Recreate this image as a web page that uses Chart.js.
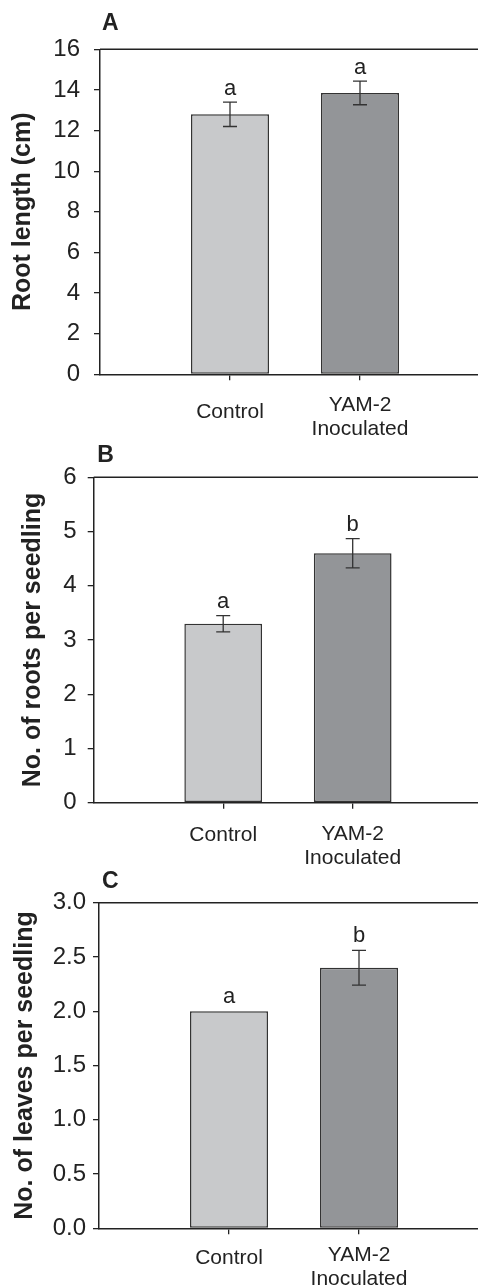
<!DOCTYPE html>
<html>
<head>
<meta charset="utf-8">
<script src="https://cdn.jsdelivr.net/npm/chart.js@4.4.1/dist/chart.umd.min.js"></script>
<style>
html,body{margin:0;padding:0;background:#fff;overflow:hidden;width:478px;height:1287px;position:relative;}
canvas{position:absolute;left:0;}
</style>
</head>
<body>
<canvas id="cA" width="500" height="440" style="top:0px"></canvas>
<canvas id="cB" width="500" height="430" style="top:440px"></canvas>
<canvas id="cC" width="500" height="417" style="top:870px"></canvas>
<script>
// ---- data ----
const categories = ['Control', 'YAM-2 Inoculated'];
const categoryLines = [['Control'], ['YAM-2', 'Inoculated']];
const barColors = ['#c8c9cb', '#939598'];

const rootLength = [12.8, 13.85];
const rootLengthErr = [0.6, 0.58];
const rootLengthLetters = ['a', 'a'];
const rootLengthTicks = [0, 2, 4, 6, 8, 10, 12, 14, 16];
const rootLengthTickLabels = ['0', '2', '4', '6', '8', '10', '12', '14', '16'];

const rootsPerSeedling = [3.3, 4.6];
const rootsPerSeedlingErr = [0.15, 0.27];
const rootsPerSeedlingLetters = ['a', 'b'];
const rootsTicks = [0, 1, 2, 3, 4, 5, 6];
const rootsTickLabels = ['0', '1', '2', '3', '4', '5', '6'];

const leavesPerSeedling = [2.0, 2.4];
const leavesPerSeedlingErr = [0, 0.16];
const leavesPerSeedlingLetters = ['a', 'b'];
const leavesTicks = [0, 0.5, 1, 1.5, 2, 2.5, 3];
const leavesTickLabels = ['0.0', '0.5', '1.0', '1.5', '2.0', '2.5', '3.0'];

// ---- rendering ----
const FAMILY = "'Liberation Sans', Arial, Helvetica, sans-serif";
const INK = '#222';

function makePanel(id, cfg) {
  const canvas = document.getElementById(id);
  const W = canvas.width, H = canvas.height;
  const a = cfg.area;

  const overlay = {
    id: 'overlay_' + id,
    afterDatasetsDraw(chart) {
      const ctx = chart.ctx;
      const y = chart.scales.y;
      const meta = chart.getDatasetMeta(0);
      ctx.save();
      meta.data.forEach((bar, i) => {
        const v = cfg.values[i], e = cfg.errs[i];
        const yt = y.getPixelForValue(v + e);
        if (e > 0) {
          const yb = y.getPixelForValue(v - e);
          ctx.strokeStyle = '#333';
          ctx.lineWidth = 1.3;
          ctx.beginPath();
          ctx.moveTo(bar.x, yt); ctx.lineTo(bar.x, yb);
          ctx.moveTo(bar.x - 7, yt); ctx.lineTo(bar.x + 7, yt);
          ctx.moveTo(bar.x - 7, yb); ctx.lineTo(bar.x + 7, yb);
          ctx.stroke();
        }
        ctx.fillStyle = INK;
        ctx.font = '22px ' + FAMILY;
        ctx.textAlign = 'center';
        ctx.textBaseline = 'alphabetic';
        ctx.fillText(cfg.letters[i], bar.x, yt - cfg.letterGap);
      });
      ctx.restore();
    },
    afterDraw(chart) {
      const ctx = chart.ctx;
      const ca = chart.chartArea;
      ctx.save();
      ctx.strokeStyle = INK;
      ctx.lineWidth = 1.5;
      ctx.beginPath();
      ctx.moveTo(ca.left, ca.top); ctx.lineTo(ca.right, ca.top); ctx.lineTo(ca.right, ca.bottom);
      ctx.stroke();
      ctx.fillStyle = INK;
      ctx.font = 'bold 23px ' + FAMILY;
      ctx.textAlign = 'left';
      ctx.textBaseline = 'alphabetic';
      ctx.fillText(cfg.panelLabel, ca.left + cfg.labelDx, ca.top - cfg.labelDy);
      ctx.restore();
    }
  };

  return new Chart(canvas, {
    type: 'bar',
    data: {
      datasets: [{
        data: cfg.values.map((v, i) => ({ x: i + 1, y: v })),
        backgroundColor: barColors,
        borderColor: '#333',
        borderWidth: 1.5,
        borderSkipped: false,
        categoryPercentage: 1,
        barPercentage: 0.6
      }]
    },
    options: {
      responsive: false,
      animation: false,
      devicePixelRatio: 1,
      layout: { padding: { top: a.top, left: 0, right: W - a.right, bottom: 0 } },
      plugins: { legend: { display: false }, tooltip: { enabled: false } },
      scales: {
        x: {
          type: 'linear',
          min: 0,
          max: categories.length + 1,
          offset: false,
          afterBuildTicks: s => { s.ticks = categories.map((c, i) => ({ value: i + 1 })); },
          afterFit: s => { s.height = H - a.bottom; },
          grid: { display: true, drawOnChartArea: false, drawTicks: true, tickLength: 6, color: INK, lineWidth: 1.3, offset: false },
          border: { display: true, color: INK, width: 1.5 },
          ticks: {
            autoSkip: false,
            maxRotation: 0,
            minRotation: 0,
            padding: cfg.xTickPad,
            color: INK,
            callback: (v) => categoryLines[Math.round(v) - 1],
            font: (ctx) => ({ family: FAMILY, size: 21, lineHeight: (ctx.index === 0 ? cfg.controlLH : 24) + 'px' })
          }
        },
        y: {
          type: 'linear',
          min: cfg.yTicks[0],
          max: cfg.yTicks[cfg.yTicks.length - 1],
          afterBuildTicks: s => { s.ticks = cfg.yTicks.map(v => ({ value: v })); },
          afterFit: s => { s.width = a.left; },
          grid: { display: true, drawOnChartArea: false, drawTicks: true, tickLength: 6, color: INK, lineWidth: 1.3 },
          border: { display: true, color: INK, width: 1.5 },
          ticks: {
            autoSkip: false,
            padding: cfg.yTickPad,
            color: INK,
            font: { family: FAMILY, size: 24 },
            callback: (v) => cfg.yTickLabels[cfg.yTicks.indexOf(v)]
          },
          title: {
            display: true,
            text: cfg.yTitle,
            color: INK,
            font: { family: FAMILY, size: 25, weight: 'bold', lineHeight: 1.2 },
            padding: { top: cfg.yTitlePad, bottom: 0 }
          }
        }
      }
    },
    plugins: [overlay]
  });
}

makePanel('cA', {
  values: rootLength, errs: rootLengthErr, letters: rootLengthLetters,
  yTicks: rootLengthTicks, yTickLabels: rootLengthTickLabels,
  yTitle: 'Root length (cm)', panelLabel: 'A',
  area: { left: 100, top: 49.3, bottom: 374.3, right: 490 },
  yTitlePad: 8, yTickPad: 14, xTickPad: 13, controlLH: 38,
  labelDx: 2, labelDy: 19.3, letterGap: 7.5
});
makePanel('cB', {
  values: rootsPerSeedling, errs: rootsPerSeedlingErr, letters: rootsPerSeedlingLetters,
  yTicks: rootsTicks, yTickLabels: rootsTickLabels,
  yTitle: 'No. of roots per seedling', panelLabel: 'B',
  area: { left: 93.7, top: 37.3, bottom: 362.7, right: 482.2 },
  yTitlePad: 18, yTickPad: 11, xTickPad: 14, controlLH: 26,
  labelDx: 3.6, labelDy: 15.6, letterGap: 8
});
makePanel('cC', {
  values: leavesPerSeedling, errs: leavesPerSeedlingErr, letters: leavesPerSeedlingLetters,
  yTicks: leavesTicks, yTickLabels: leavesTickLabels,
  yTitle: 'No. of leaves per seedling', panelLabel: 'C',
  area: { left: 99, top: 32.7, bottom: 358.3, right: 489 },
  yTitlePad: 10, yTickPad: 7, xTickPad: 8.7, controlLH: 30,
  labelDx: 3, labelDy: 14.7, letterGap: 8
});
</script>
</body>
</html>
